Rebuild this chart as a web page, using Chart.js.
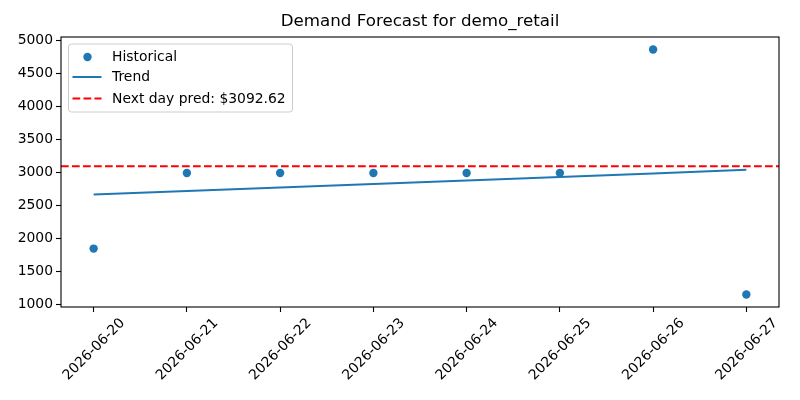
<!DOCTYPE html>
<html>
<head>
<meta charset="utf-8">
<script src="https://cdn.jsdelivr.net/npm/chart.js@4.4.1/dist/chart.umd.min.js"></script>
<style>
  html, body { margin: 0; padding: 0; background: #fff; }
  #wrap { width: 800px; height: 400px; position: relative; }
</style>
</head>
<body>
<div id="wrap"><canvas id="c" width="800" height="400"></canvas></div>
<script>
const TITLE = 'Demand Forecast for demo_retail';
const dates = ['2026-06-20','2026-06-21','2026-06-22','2026-06-23','2026-06-24','2026-06-25','2026-06-26','2026-06-27'];
const historical = [1845, 2990, 2990, 2990, 2990, 2990, 4860, 1150];
const trend = [2664, 2717, 2771, 2824, 2878, 2931, 2984, 3038];
const nextDayPred = 3092.62;
const yTicks = [1000, 1500, 2000, 2500, 3000, 3500, 4000, 4500, 5000];
const legendLabels = ['Historical', 'Trend', 'Next day pred: $' + nextDayPred.toFixed(2)];

const BLUE = '#1f77b4';
const RED = '#ff0000';
const FONT = "'DejaVu Sans', sans-serif";

const frameAndLegend = {
  id: 'frameAndLegend',
  afterDatasetsDraw(chart) {
    const ctx = chart.ctx;
    const a = chart.chartArea;
    const yp = chart.scales.y.getPixelForValue(nextDayPred);
    ctx.save();
    ctx.beginPath();
    ctx.rect(a.left, a.top, a.right - a.left, a.bottom - a.top);
    ctx.clip();
    ctx.strokeStyle = RED;
    ctx.lineWidth = 2;
    ctx.setLineDash([7.7, 3.3]);
    ctx.beginPath();
    ctx.moveTo(a.left, yp);
    ctx.lineTo(a.right, yp);
    ctx.stroke();
    ctx.restore();
  },
  afterDraw(chart) {
    const ctx = chart.ctx;
    const a = chart.chartArea;
    ctx.save();
    // title centred over the axes
    ctx.fillStyle = '#000';
    ctx.font = '16.7px ' + FONT;
    ctx.textAlign = 'center';
    ctx.textBaseline = 'middle';
    ctx.fillText(TITLE, (a.left + a.right) / 2, 22);
    // frame
    ctx.strokeStyle = '#000';
    ctx.lineWidth = 1.1;
    ctx.strokeRect(a.left, a.top, a.right - a.left, a.bottom - a.top);
    // legend box
    const bx = a.left + 7.5, by = a.top + 7, bw = 224, bh = 68, r = 3;
    ctx.fillStyle = 'rgba(255,255,255,0.8)';
    ctx.strokeStyle = '#cccccc';
    ctx.lineWidth = 1;
    ctx.beginPath();
    ctx.moveTo(bx + r, by);
    ctx.lineTo(bx + bw - r, by);
    ctx.quadraticCurveTo(bx + bw, by, bx + bw, by + r);
    ctx.lineTo(bx + bw, by + bh - r);
    ctx.quadraticCurveTo(bx + bw, by + bh, bx + bw - r, by + bh);
    ctx.lineTo(bx + r, by + bh);
    ctx.quadraticCurveTo(bx, by + bh, bx, by + bh - r);
    ctx.lineTo(bx, by + r);
    ctx.quadraticCurveTo(bx, by, bx + r, by);
    ctx.closePath();
    ctx.fill();
    ctx.stroke();
    const rows = [a.top + 20, a.top + 40, a.top + 61.5];
    const mx0 = a.left + 11.5, mx1 = a.left + 40.5, mc = a.left + 26.5, tx = a.left + 51;
    ctx.fillStyle = BLUE;
    ctx.beginPath();
    ctx.arc(mc, rows[0], 4.2, 0, Math.PI * 2);
    ctx.fill();
    ctx.strokeStyle = BLUE;
    ctx.lineWidth = 2;
    ctx.setLineDash([]);
    ctx.beginPath();
    ctx.moveTo(mx0, rows[1]);
    ctx.lineTo(mx1, rows[1]);
    ctx.stroke();
    ctx.strokeStyle = RED;
    ctx.setLineDash([7.7, 3.3]);
    ctx.beginPath();
    ctx.moveTo(mx0, rows[2]);
    ctx.lineTo(mx1, rows[2]);
    ctx.stroke();
    ctx.setLineDash([]);
    ctx.fillStyle = '#000';
    ctx.font = '13.9px ' + FONT;
    ctx.textBaseline = 'middle';
    ctx.textAlign = 'left';
    legendLabels.forEach((t, i) => ctx.fillText(t, tx, rows[i] + 0.5));
    ctx.restore();
  }
};

new Chart(document.getElementById('c'), {
  type: 'scatter',
  data: {
    datasets: [
      {
        label: legendLabels[0],
        data: historical.map((v, i) => ({ x: i, y: v })),
        backgroundColor: BLUE,
        borderColor: BLUE,
        pointRadius: 4.2,
        pointHoverRadius: 4.2,
        borderWidth: 0,
        order: 1
      },
      {
        label: legendLabels[1],
        type: 'line',
        data: trend.map((v, i) => ({ x: i, y: v })),
        borderColor: BLUE,
        borderWidth: 2,
        pointRadius: 0,
        fill: false,
        tension: 0,
        order: 2
      }
    ]
  },
  options: {
    responsive: false,
    animation: false,
    devicePixelRatio: 1,
    layout: { padding: { left: 0, right: 21, top: 37, bottom: 0 } },
    plugins: {
      legend: { display: false },
      tooltip: { enabled: false },
      title: { display: false }
    },
    scales: {
      x: {
        type: 'linear',
        min: -0.35,
        max: 7.35,
        afterFit(scale) { scale.height = 93; },
        border: { display: false },
        grid: { drawOnChartArea: false, drawTicks: true, tickLength: 5, color: '#000', tickWidth: 1.1 },
        ticks: {
          stepSize: 1,
          includeBounds: false,
          autoSkip: false,
          maxRotation: 45,
          minRotation: 45,
          padding: 3,
          labelOffset: 29,
          color: '#000',
          font: { family: FONT, size: 13.9 },
          callback: (v) => (Number.isInteger(v) && dates[v]) ? dates[v] : ''
        }
      },
      y: {
        type: 'linear',
        min: 960,
        max: 5050,
        afterFit(scale) { scale.width = 61; },
        afterBuildTicks(scale) { scale.ticks = yTicks.map(v => ({ value: v })); },
        border: { display: false },
        grid: { drawOnChartArea: false, drawTicks: true, tickLength: 5, color: '#000', tickWidth: 1.1 },
        ticks: {
          padding: 3,
          color: '#000',
          font: { family: FONT, size: 13.9 },
          callback: (v) => String(v)
        }
      }
    }
  },
  plugins: [frameAndLegend]
});
</script>
</body>
</html>
